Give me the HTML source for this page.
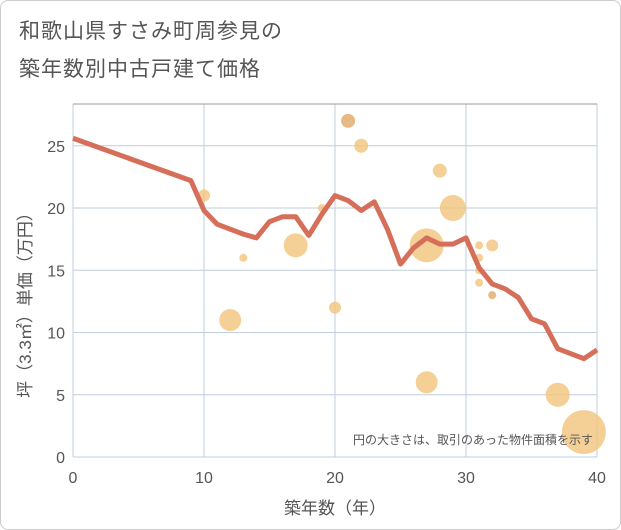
<!DOCTYPE html>
<html><head><meta charset="utf-8"><style>
body{margin:0;background:#fff;font-family:"Liberation Sans","Noto Sans CJK JP",sans-serif;}
#wrap{position:relative;width:619px;height:528px;border:1px solid #ccc;border-radius:8px;overflow:hidden;background:#fff}
.t{position:absolute;left:18px;font-size:21px;color:#555;letter-spacing:1px}
</style></head><body>
<div id="wrap">
<div class="t" style="top:14px">和歌山県すさみ町周参見の</div>
<div class="t" style="top:52px">築年数別中古戸建て価格</div>
<svg id="c" width="621" height="530" style="position:absolute;left:0;top:0"></svg>
</div>
<script>
const years=[0,9,10,11,12,13,14,15,16,17,18,19,20,21,22,23,24,25,26,27,28,29,30,31,32,33,34,35,36,37,38,39,40];
const avgPrice=[25.6,22.2,19.8,18.7,18.3,17.9,17.6,18.9,19.3,19.3,17.8,19.5,21.0,20.6,19.8,20.5,18.3,15.5,16.8,17.6,17.1,17.1,17.6,15.2,13.9,13.5,12.8,11.1,10.7,8.7,8.3,7.9,8.6];
const bubbleX=[10,12,13,17,19,20,21,22,27,27,28,29,31,31,31,31,32,32,37,39];
const bubbleY=[21,11,16,17,20,12,27,25,17,6,23,20,17,16,15,14,17,13,5,2];
const bubbleR=[6,11,4,12,4,6,7,7,17,11,7,13,4,4,4,4,6,4,12,22];
const xTicks=[0,10,20,30,40];
const yTicks=[0,5,10,15,20,25];
const X=v=>72+v*13.1, Y=v=>456-v*12.45;
const svg=document.getElementById('c'),NS='http://www.w3.org/2000/svg';
function mk(t,a,p){const e=document.createElementNS(NS,t);for(const k in a)e.setAttribute(k,a[k]);(p||svg).appendChild(e);return e;}
mk('rect',{x:72,y:103,width:524,height:353,fill:'#fff'});
xTicks.forEach(v=>{const l=mk('line',{x1:X(v),x2:X(v),y1:103,y2:456,stroke:'#c0cedd','stroke-width':1});

const t=mk('text',{x:X(v),y:482,'text-anchor':'middle','font-size':16,fill:'#555'});t.textContent=v;
});
yTicks.forEach(v=>{const l=mk('line',{x1:72,x2:596,y1:Y(v),y2:Y(v),stroke:'#c0cedd','stroke-width':1});

const t=mk('text',{x:64,y:Y(v)+6,'text-anchor':'end','font-size':16,fill:'#555'});t.textContent=v;
});
mk('line',{x1:72,x2:596,y1:103,y2:103,stroke:'#999','stroke-width':1});
bubbleX.forEach((x,i)=>{const dark=(x==21&&bubbleY[i]==27)||(x==32&&bubbleY[i]==13);
const c=mk('circle',{cx:X(x),cy:Y(bubbleY[i]),r:bubbleR[i],fill:dark?'#e0a866':'#f3c47c','fill-opacity':0.8});
});
const p=mk('polyline',{points:years.map((y,i)=>X(y)+','+Y(avgPrice[i])).join(' '),fill:'none',stroke:'#d66f5a','stroke-width':5,'stroke-linejoin':'round'});

const n=mk('text',{x:592,y:443,'text-anchor':'end','font-size':12,fill:'#555'});n.textContent='円の大きさは、取引のあった物件面積を示す';

const xt=mk('text',{x:334,y:513,'text-anchor':'middle','font-size':17,fill:'#555'});xt.textContent='築年数（年）';

const yt=mk('text',{x:0,y:0,'text-anchor':'middle','font-size':17,fill:'#555',transform:'translate(30,300) rotate(-90)'});yt.textContent='坪（3.3㎡）単価（万円）';

</script>
</body></html>
